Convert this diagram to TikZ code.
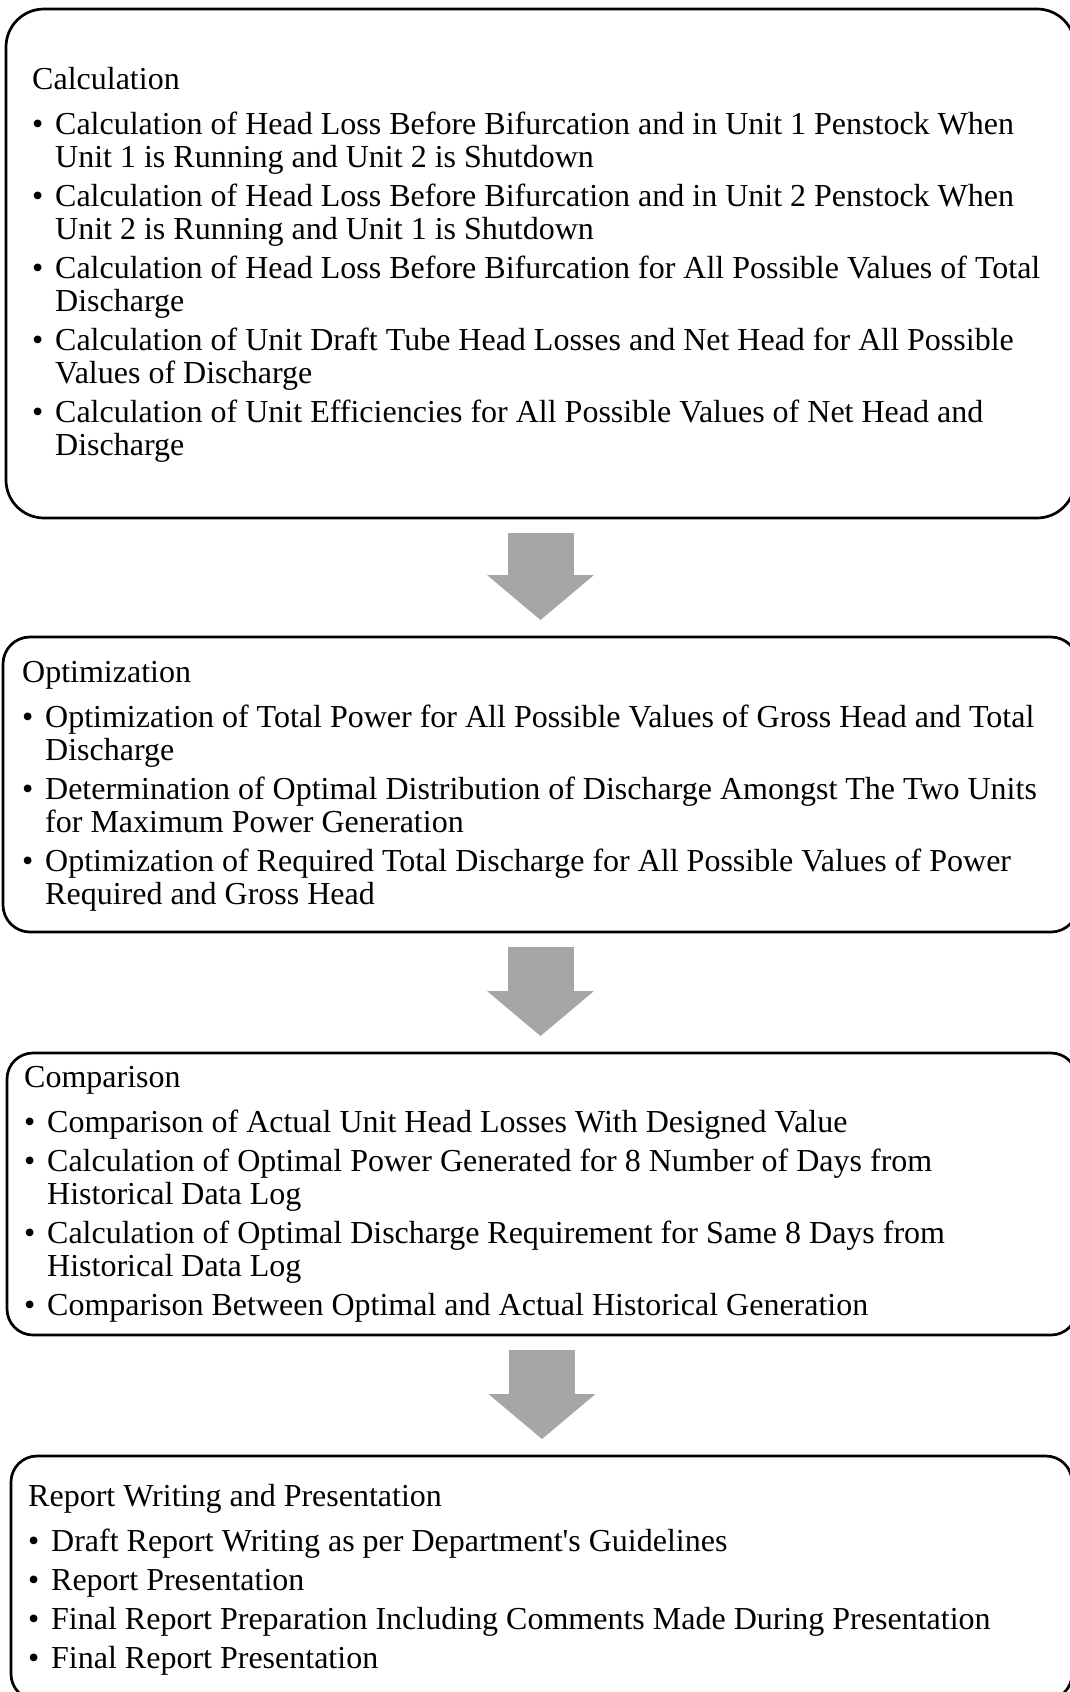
\documentclass[tikz,border=0pt]{standalone}
\usepackage{fontspec}
\setmainfont{Liberation Serif}
\usetikzlibrary{arrows.meta}

\definecolor{arrowgray}{RGB}{166,166,166}
\newcommand{\stagetitle}[1]{\setlength{\parskip}{6pt}\noindent\rule{0pt}{25pt}#1\par\vspace{6pt}}
\newcommand{\stageitem}[1]{\hangindent=23pt\hangafter=1\noindent\makebox[23pt][l]{\textbullet}#1\par}

\begin{document}
\begin{tikzpicture}[x=1pt, y=-1pt,
    stagebox/.style={draw, line width=2.7pt, outer sep=0pt},
    stagetext/.style={anchor=north west, inner sep=0pt, text width=1060pt, align=flush left,
      font=\fontsize{32}{33}\selectfont},
    flowarrow/.style={draw=arrowgray, line width=66pt,
      -{Triangle[width=107pt, length=45pt, line width=0pt]},
      shorten <=15pt, shorten >=17pt}]
      \useasboundingbox (0,0) rectangle (1070,1692);

      \node[stagebox, rounded corners=38pt, minimum width=1069pt, minimum height=509pt] (calc) at (540.5,263.5) {};
      \node[stagebox, rounded corners=27pt, minimum width=1075pt, minimum height=295pt] (optim) at (540.5,784.5) {};
      \node[stagebox, rounded corners=26pt, minimum width=1070pt, minimum height=282pt] (compare) at (542,1194) {};
      \node[stagebox, rounded corners=26pt, minimum width=1061pt, minimum height=244pt] (report) at (541.5,1578) {};

      \node[stagetext] (calctext) at (32,64) {\stagetitle{Calculation}
        \stageitem{Calculation of Head Loss Before Bifurcation and in Unit 1 Penstock When\newline Unit 1 is Running and Unit 2 is Shutdown}
        \stageitem{Calculation of Head Loss Before Bifurcation and in Unit 2 Penstock When\newline Unit 2 is Running and Unit 1 is Shutdown}
        \stageitem{Calculation of Head Loss Before Bifurcation for All Possible Values of Total\newline Discharge}
        \stageitem{Calculation of Unit Draft Tube Head Losses and Net Head for All Possible\newline Values of Discharge}
        \stageitem{Calculation of Unit Efficiencies for All Possible Values of Net Head and\newline Discharge}};
      \node[stagetext] (optimtext) at (22,657) {\stagetitle{Optimization}
        \stageitem{Optimization of Total Power for All Possible Values of Gross Head and Total\newline Discharge}
        \stageitem{Determination of Optimal Distribution of Discharge Amongst The Two Units\newline for Maximum Power Generation}
        \stageitem{Optimization of Required Total Discharge for All Possible Values of Power\newline Required and Gross Head}};
      \node[stagetext] (comparetext) at (24,1062) {\stagetitle{Comparison}
        \stageitem{Comparison of Actual Unit Head Losses With Designed Value}
        \stageitem{Calculation of Optimal Power Generated for 8 Number of Days from\newline Historical Data Log}
        \stageitem{Calculation of Optimal Discharge Requirement for Same 8 Days from\newline Historical Data Log}
        \stageitem{Comparison Between Optimal and Actual Historical Generation}};
      \node[stagetext] (reporttext) at (28,1481) {\stagetitle{Report Writing and Presentation}
        \stageitem{Draft Report Writing as per Department\textquotesingle s Guidelines}
        \stageitem{Report Presentation}
        \stageitem{Final Report Preparation Including Comments Made During Presentation}
        \stageitem{Final Report Presentation}};

      \draw[flowarrow] (calc.south) -- (calc.south |- optim.north);
      \draw[flowarrow] (optim.south) -- (optim.south |- compare.north);
      \draw[flowarrow] (compare.south) -- (compare.south |- report.north);
\end{tikzpicture}
\end{document}
